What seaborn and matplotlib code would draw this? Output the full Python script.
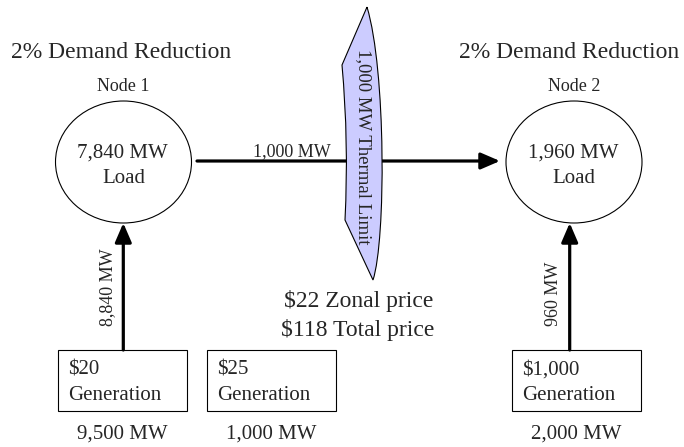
import matplotlib
matplotlib.use("Agg")
import matplotlib.pyplot as plt
import seaborn as sns
from matplotlib.patches import Ellipse, Rectangle, PathPatch
from matplotlib.path import Path

sns.set_theme(style="white")
plt.rcParams['font.family'] = ['Liberation Serif', 'DejaVu Serif']

# values shown in the diagram
node_names = ["Node 1", "Node 2"]
node_load_mw = [7840, 1960]
demand_reduction_pct = [2, 2]
gen_price = [20, 25, 1000]
gen_capacity_mw = [9500, 1000, 2000]
gen_dispatch_mw = [8840, 960]   # flows from gen 1 -> node 1 and gen 3 -> node 2
line_flow_mw = 1000
line_limit_mw = 1000
zonal_price = 22
total_price = 118

fig = plt.figure(figsize=(6.84, 4.47), dpi=100)
ax = fig.add_axes([0, 0, 1, 1])
ax.set_xlim(0, 684)
ax.set_ylim(447, 0)
ax.axis('off')

# layout (pixel space)
node_x = [123.5, 574]
node_y = 162
gen_x = [58, 207, 512]
gen_w, gen_top, gen_h = 129, 350, 61

# nodes
for i in range(2):
    ax.text(node_x[i] - 2 if i == 0 else node_x[i] - 5, 58,
            f"{demand_reduction_pct[i]}% Demand Reduction",
            ha='center', va='baseline', fontsize=17)
    ax.text(node_x[i], 91, node_names[i], ha='center', va='baseline', fontsize=13)
    ax.add_patch(Ellipse((node_x[i], node_y), 136, 122, fill=False, ec='black', lw=0.8))
    ax.text(node_x[i] - 1, 158, f"{node_load_mw[i]:,} MW", ha='center', va='baseline', fontsize=15)
    ax.text(node_x[i], 183, "Load", ha='center', va='baseline', fontsize=15)

arrow_kw = dict(arrowstyle='-|>,head_length=0.58,head_width=0.25', lw=2.3,
                color='black', mutation_scale=20, shrinkA=0, shrinkB=0)

# transmission line
ax.annotate('', xy=(500, 161), xytext=(197, 161), arrowprops=arrow_kw)
ax.text(292, 156, f"{line_flow_mw:,} MW", ha='center', va='baseline', fontsize=13)

# thermal limit marker
verts = [(367, 7), (342, 65), (349, 142), (345, 220), (373, 280),
         (386, 240), (386, 70), (367, 7)]
codes = [Path.MOVETO, Path.LINETO, Path.CURVE3, Path.CURVE3, Path.LINETO,
         Path.CURVE4, Path.CURVE4, Path.CURVE4]
ax.add_patch(PathPatch(Path(verts, codes), fc='#CCCCFF', ec='black', lw=0.8, zorder=3))
ax.text(363, 147, f"{line_limit_mw:,} MW Thermal Limit", rotation=-90,
        ha='center', va='center', fontsize=13.5, zorder=4)

ax.text(358.5, 307, f"${zonal_price} Zonal price", ha='center', va='baseline', fontsize=17)
ax.text(358, 336, f"${total_price} Total price", ha='center', va='baseline', fontsize=17)

# generators
for i in range(3):
    ax.add_patch(Rectangle((gen_x[i], gen_top), gen_w, gen_h, fill=False, ec='black', lw=0.8))
    ax.text(gen_x[i] + 10, 375, f"${gen_price[i]:,}", ha='left', va='baseline', fontsize=15)
    ax.text(gen_x[i] + 10, 400, "Generation", ha='left', va='baseline', fontsize=15)
    ax.text(gen_x[i] + gen_w / 2, 439, f"{gen_capacity_mw[i]:,} MW",
            ha='center', va='baseline', fontsize=15)

# dispatch arrows
disp_x = [123.3, 569.7]
label_x = [108, 554]
for i in range(2):
    ax.annotate('', xy=(disp_x[i], 223), xytext=(disp_x[i], gen_top), arrowprops=arrow_kw)
    ax.text(label_x[i], 326, f"{gen_dispatch_mw[i]:,} MW", rotation=90,
            ha='center', va='bottom', fontsize=13)

fig.savefig("out.png", dpi=100)
